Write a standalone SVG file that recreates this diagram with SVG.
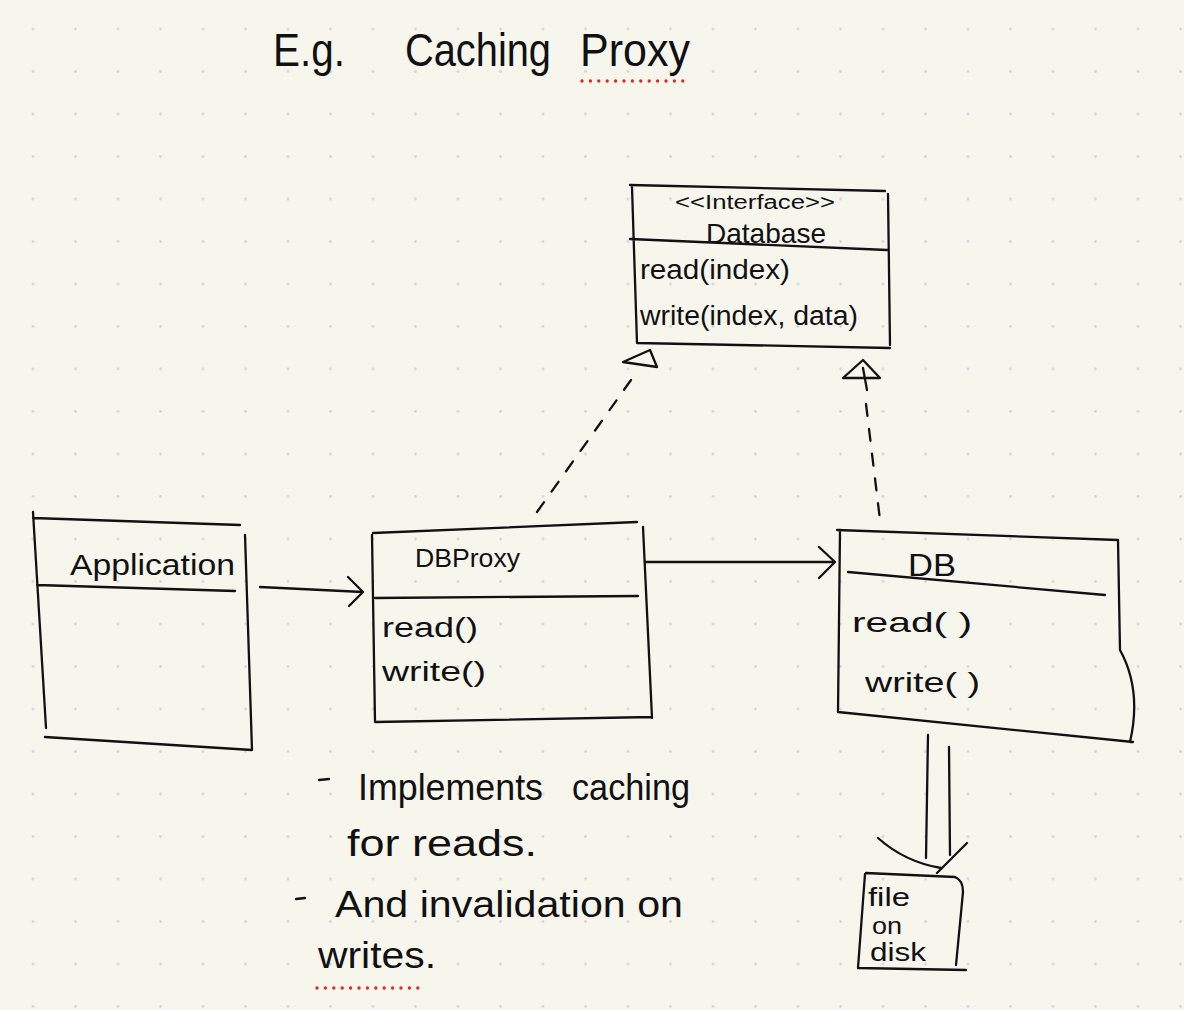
<svg xmlns="http://www.w3.org/2000/svg" width="1184" height="1010" viewBox="0 0 1184 1010">
<defs>
<pattern id="dots" x="11.75" y="7.75" width="42.5" height="42.5" patternUnits="userSpaceOnUse">
<circle cx="21.25" cy="21.25" r="1.4" fill="#d6d3da"/>
</pattern>
<style>
.s{fill:none;stroke:#111;stroke-width:2.3;stroke-linecap:round;stroke-linejoin:round}
.d{fill:none;stroke:#111;stroke-width:2.3;stroke-linecap:round;stroke-dasharray:12 13}
.t{font-family:"Liberation Sans","DejaVu Sans",sans-serif;fill:#111}
.r{fill:none;stroke:#e8261c;stroke-width:3.4;stroke-linecap:round;stroke-dasharray:0 8.4}
</style>
</defs>
<rect width="1184" height="1010" fill="#f7f6ed"/>
<rect width="1184" height="1010" fill="url(#dots)"/>

<g id="title">
<text class="t" x="273" y="66" font-size="46" textLength="72" lengthAdjust="spacingAndGlyphs">E.g.</text>
<text class="t" x="405" y="66" font-size="46" textLength="146" lengthAdjust="spacingAndGlyphs">Caching</text>
<text class="t" x="580" y="66" font-size="46" textLength="110" lengthAdjust="spacingAndGlyphs">Proxy</text>
<path class="r" d="M582 81 L690 81"/>
</g>

<g id="database">
<path class="s" d="M630 185 L885 191 M888 194 L890 345 M632 187 L637 343 L890 348 M630 239 L887 250"/>
<text class="t" x="675" y="209" font-size="20" textLength="160" lengthAdjust="spacingAndGlyphs">&lt;&lt;Interface&gt;&gt;</text>
<text class="t" x="706" y="243" font-size="28" textLength="120" lengthAdjust="spacingAndGlyphs">Database</text>
<text class="t" x="640" y="279" font-size="27" textLength="150" lengthAdjust="spacingAndGlyphs">read(index)</text>
<text class="t" x="640" y="325" font-size="27" textLength="218" lengthAdjust="spacingAndGlyphs">write(index, data)</text>
</g>

<g id="application">
<path class="s" d="M33 518 L240 525 M33 512 L46 728 M245 535 L252 750 M45 737 L252 750 M37 585 L235 591"/>
<text class="t" x="70" y="575" font-size="30" textLength="165" lengthAdjust="spacingAndGlyphs">Application</text>
</g>

<g id="dbproxy">
<path class="s" d="M373 533 L637 522 M372 535 L375 722 L652 717 M643 527 L652 718 M375 598 L638 596"/>
<text class="t" x="415" y="567" font-size="26" textLength="105" lengthAdjust="spacingAndGlyphs">DBProxy</text>
<text class="t" x="382" y="637" font-size="27" textLength="96" lengthAdjust="spacingAndGlyphs">read()</text>
<text class="t" x="382" y="681" font-size="27" textLength="104" lengthAdjust="spacingAndGlyphs">write()</text>
</g>

<g id="db">
<path class="s" d="M837 530 L1118 540 M840 530 L838 712 L1133 742 M1118 540 L1120 650 Q1142 690 1130 742 M848 572 L1105 595"/>
<text class="t" x="908" y="576" font-size="32" textLength="48" lengthAdjust="spacingAndGlyphs">DB</text>
<text class="t" x="852" y="632" font-size="28" textLength="120" lengthAdjust="spacingAndGlyphs">read( )</text>
<text class="t" x="865" y="692" font-size="28" textLength="115" lengthAdjust="spacingAndGlyphs">write( )</text>
</g>

<g id="file">
<path class="s" d="M866 873 L955 877 Q963 880 963 892 L956 965 M865 874 L858 968 L966 970"/>
<text class="t" x="868" y="906" font-size="26" textLength="42" lengthAdjust="spacingAndGlyphs">file</text>
<text class="t" x="872" y="934" font-size="24" textLength="30" lengthAdjust="spacingAndGlyphs">on</text>
<text class="t" x="870" y="961" font-size="26" textLength="56" lengthAdjust="spacingAndGlyphs">disk</text>
</g>

<g id="notes">
<path class="s" d="M319 780 L329 779 M296 899 L305 898" stroke-width="3"/>
<text class="t" x="358" y="800" font-size="36" textLength="185" lengthAdjust="spacingAndGlyphs">Implements</text>
<text class="t" x="572" y="800" font-size="36" textLength="118" lengthAdjust="spacingAndGlyphs">caching</text>
<text class="t" x="347" y="856" font-size="36" textLength="190" lengthAdjust="spacingAndGlyphs">for reads.</text>
<text class="t" x="335" y="917" font-size="36" textLength="348" lengthAdjust="spacingAndGlyphs">And invalidation on</text>
<text class="t" x="318" y="968" font-size="36" textLength="118" lengthAdjust="spacingAndGlyphs">writes.</text>
<path class="r" d="M317 988 L423 988"/>
</g>

<g id="connectors">
<path class="s" d="M260 587 L363 592 M348 577 L363 592 L349 606"/>
<path class="s" d="M645 562 L835 562 M819 547 L835 562 L819 578"/>
<path class="s" d="M623 362 L657 367 L650 350 Z"/>
<path class="d" d="M631 380 L537 512"/>
<path class="s" d="M843 378 L880 378 L863 360 Z M863 368 L867 390"/>
<path class="d" d="M866 404 L880 520"/>
<path class="s" d="M928 735 L926 858 M949 747 L950 855 M878 838 Q905 862 941 868 M937 873 L967 843"/>
</g>
</svg>
